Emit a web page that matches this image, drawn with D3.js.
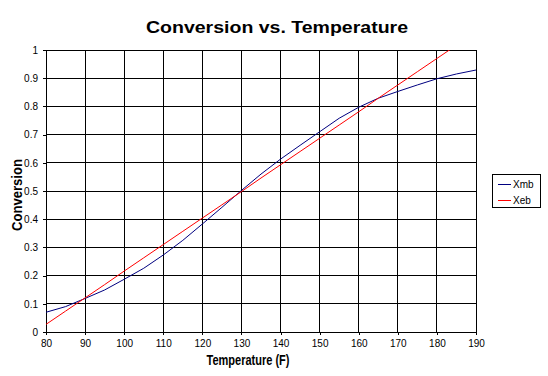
<!DOCTYPE html>
<html>
<head>
<meta charset="utf-8">
<script src="https://cdn.jsdelivr.net/npm/d3@7"></script>
<style>
    body { margin: 0; background: #fff; }
    svg { font-family: "Liberation Sans", Arial, sans-serif; }
    .axis path, .axis line { stroke: #000; shape-rendering: crispEdges; }
    .axis text { font-size: 10px; fill: #000; }
    .grid line { stroke: #000; shape-rendering: crispEdges; }
</style>
</head>
<body>
<div id="chart"></div>
<script>
// values
const temperatures = [80, 85, 90, 95, 100, 105, 110, 115, 120, 125, 130, 135, 140, 145, 150, 155, 160, 165, 170, 175, 180, 185, 190];
const xmbValues = [0.070, 0.090, 0.119, 0.149, 0.187, 0.226, 0.273, 0.325, 0.383, 0.442, 0.502, 0.560, 0.613, 0.662, 0.710, 0.758, 0.797, 0.829, 0.853, 0.876, 0.898, 0.915, 0.929];
const xebValues = [0.027, 0.074, 0.121, 0.168, 0.216, 0.263, 0.310, 0.357, 0.404, 0.451, 0.498, 0.546, 0.593, 0.640, 0.687, 0.734, 0.781, 0.829, 0.876, 0.923, 0.970, 1.017, 1.064];
const seriesNames = ["Xmb", "Xeb"];
const seriesColors = ["#000080", "#ff0000"];
const xTicks = [80, 90, 100, 110, 120, 130, 140, 150, 160, 170, 180, 190];
const yTicks = [0, 0.1, 0.2, 0.3, 0.4, 0.5, 0.6, 0.7, 0.8, 0.9, 1];

class LineVis {
    constructor(_parentElement) {
        this.parentElement = _parentElement;
        this.series = [xmbValues, xebValues].map((vals, i) => ({
            name: seriesNames[i],
            color: seriesColors[i],
            values: temperatures.map((t, j) => ({temp: t, value: vals[j]}))
        }));
        this.initVis();
    }

    initVis() {
        let vis = this;

        vis.margin = {top: 50, right: 72, bottom: 44, left: 46};
        vis.width = 548 - vis.margin.left - vis.margin.right;
        vis.height = 376 - vis.margin.top - vis.margin.bottom;

        vis.root = d3.select("#" + vis.parentElement).append("svg")
            .attr("width", 548)
            .attr("height", 376);

        vis.svg = vis.root.append("g")
            .attr("transform", "translate(" + vis.margin.left + "," + vis.margin.top + ")");

        vis.svg.append("defs")
            .append("clipPath")
            .attr("id", "clip")
            .append("rect")
            .attr("width", vis.width)
            .attr("height", vis.height);

        vis.x = d3.scaleLinear().domain([80, 190]).range([0, vis.width]);
        vis.y = d3.scaleLinear().domain([0, 1]).range([vis.height, 0]);

        // grid
        let grid = vis.svg.append("g").attr("class", "grid");
        grid.selectAll(".vgrid")
            .data(xTicks)
            .enter()
            .append("line")
            .attr("x1", d => vis.x(d))
            .attr("x2", d => vis.x(d))
            .attr("y1", 0)
            .attr("y2", vis.height);
        grid.selectAll(".hgrid")
            .data(yTicks)
            .enter()
            .append("line")
            .attr("x1", 0)
            .attr("x2", vis.width)
            .attr("y1", d => vis.y(d))
            .attr("y2", d => vis.y(d));

        vis.svg.append("g")
            .attr("class", "axis axis--x")
            .attr("transform", "translate(0," + vis.height + ")")
            .call(d3.axisBottom(vis.x).tickValues(xTicks).tickSize(3).tickPadding(5).tickFormat(d3.format("d")));

        vis.svg.append("g")
            .attr("class", "axis axis--y")
            .call(d3.axisLeft(vis.y).tickValues(yTicks).tickSize(3).tickPadding(5).tickFormat(d => d === 0 || d === 1 ? d : d3.format(".1f")(d)));

        // frame
        vis.svg.append("rect")
            .attr("width", vis.width)
            .attr("height", vis.height)
            .attr("fill", "none")
            .attr("stroke", "#000")
            .attr("shape-rendering", "crispEdges");

        let line = d3.line()
            .x(d => vis.x(d.temp))
            .y(d => vis.y(d.value));

        vis.svg.append("g")
            .attr("clip-path", "url(#clip)")
            .selectAll("path")
            .data(vis.series)
            .enter()
            .append("path")
            .attr("d", d => line(d.values))
            .attr("fill", "none")
            .attr("stroke", d => d.color)
            .attr("stroke-width", 1);

        // titles
        vis.root.append("text")
            .attr("x", 277)
            .attr("y", 33)
            .attr("text-anchor", "middle")
            .attr("font-size", 16)
            .attr("font-weight", "bold")
            .attr("textLength", 262)
            .attr("lengthAdjust", "spacingAndGlyphs")
            .text("Conversion vs. Temperature");

        vis.root.append("text")
            .attr("x", 248)
            .attr("y", 365)
            .attr("text-anchor", "middle")
            .attr("font-size", 15)
            .attr("font-weight", "bold")
            .attr("textLength", 83)
            .attr("lengthAdjust", "spacingAndGlyphs")
            .text("Temperature (F)");

        vis.root.append("text")
            .attr("transform", "translate(22,195) rotate(-90)")
            .attr("text-anchor", "middle")
            .attr("font-size", 15)
            .attr("font-weight", "bold")
            .attr("textLength", 72)
            .attr("lengthAdjust", "spacingAndGlyphs")
            .text("Conversion");

        // legend
        let legend = vis.root.append("g").attr("transform", "translate(492,174)");
        legend.append("rect")
            .attr("width", 48)
            .attr("height", 33)
            .attr("fill", "#fff")
            .attr("stroke", "#000")
            .attr("shape-rendering", "crispEdges");
        let items = legend.selectAll(".item")
            .data(vis.series)
            .enter()
            .append("g")
            .attr("transform", (d, i) => "translate(0," + (10 + i * 16) + ")");
        items.append("line")
            .attr("x1", 6)
            .attr("x2", 19)
            .attr("stroke", d => d.color)
            .attr("shape-rendering", "crispEdges");
        items.append("text")
            .attr("x", 21)
            .attr("y", 4)
            .attr("font-size", 10)
            .text(d => d.name);
    }
}

new LineVis("chart");
</script>
</body>
</html>
